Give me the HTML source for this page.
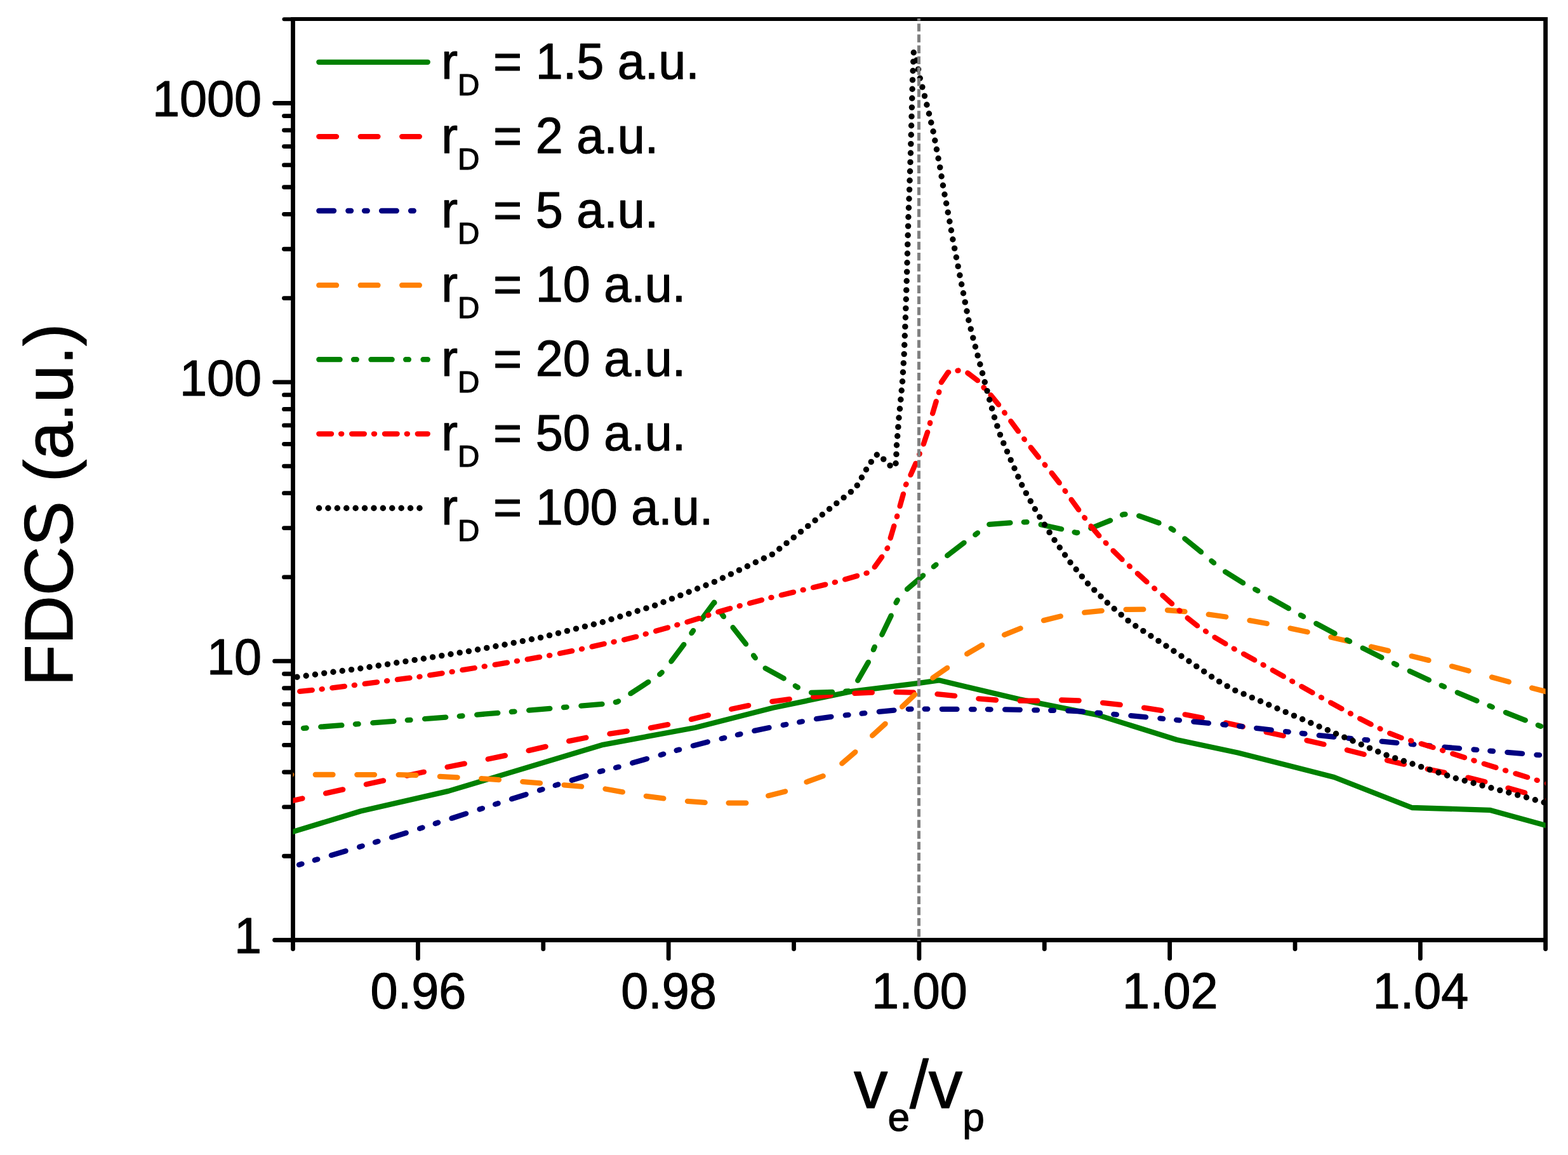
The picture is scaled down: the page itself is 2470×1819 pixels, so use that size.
<!DOCTYPE html>
<html lang="en"><head><meta charset="utf-8"><title>FDCS vs ve/vp</title>
<style>html,body{margin:0;padding:0;background:#fff;}body{width:2470px;height:1819px;overflow:hidden;}svg{display:block;}text{font-family:"Liberation Sans",sans-serif;fill:#000;stroke:#000;stroke-width:1.2px;stroke-linejoin:round;}</style>
</head><body>
<svg width="2470" height="1819" viewBox="0 0 2470 1819">
<rect x="0" y="0" width="2470" height="1819" fill="#ffffff"/>
<defs><clipPath id="plot"><rect x="461.5" y="30.0" width="1973.1" height="1450.5"/></clipPath><clipPath id="vclip"><rect x="461.5" y="29" width="1973.1" height="1453"/></clipPath></defs>
<g stroke="#000" stroke-width="6.8" fill="none" stroke-linecap="butt">
<line x1="458.1" y1="30.0" x2="2438.0" y2="30.0" stroke-width="6"/>
<line x1="458.1" y1="1480.5" x2="2438.0" y2="1480.5"/>
<line x1="461.5" y1="30.0" x2="461.5" y2="1480.5"/>
<line x1="2434.6" y1="30.0" x2="2434.6" y2="1480.5"/>
</g>
<g stroke="#000" stroke-width="6.8" fill="none" stroke-linecap="round">
<line x1="461.5" y1="1480.50" x2="432.60" y2="1480.50"/>
<line x1="461.5" y1="1348.25" x2="447.50" y2="1348.25"/>
<line x1="461.5" y1="1270.89" x2="447.50" y2="1270.89"/>
<line x1="461.5" y1="1216.00" x2="447.50" y2="1216.00"/>
<line x1="461.5" y1="1173.42" x2="447.50" y2="1173.42"/>
<line x1="461.5" y1="1138.63" x2="447.50" y2="1138.63"/>
<line x1="461.5" y1="1109.22" x2="447.50" y2="1109.22"/>
<line x1="461.5" y1="1083.75" x2="447.50" y2="1083.75"/>
<line x1="461.5" y1="1061.27" x2="447.50" y2="1061.27"/>
<line x1="461.5" y1="1041.17" x2="432.60" y2="1041.17"/>
<line x1="461.5" y1="908.92" x2="447.50" y2="908.92"/>
<line x1="461.5" y1="831.56" x2="447.50" y2="831.56"/>
<line x1="461.5" y1="776.67" x2="447.50" y2="776.67"/>
<line x1="461.5" y1="734.09" x2="447.50" y2="734.09"/>
<line x1="461.5" y1="699.30" x2="447.50" y2="699.30"/>
<line x1="461.5" y1="669.89" x2="447.50" y2="669.89"/>
<line x1="461.5" y1="644.42" x2="447.50" y2="644.42"/>
<line x1="461.5" y1="621.94" x2="447.50" y2="621.94"/>
<line x1="461.5" y1="601.84" x2="432.60" y2="601.84"/>
<line x1="461.5" y1="469.59" x2="447.50" y2="469.59"/>
<line x1="461.5" y1="392.23" x2="447.50" y2="392.23"/>
<line x1="461.5" y1="337.34" x2="447.50" y2="337.34"/>
<line x1="461.5" y1="294.76" x2="447.50" y2="294.76"/>
<line x1="461.5" y1="259.97" x2="447.50" y2="259.97"/>
<line x1="461.5" y1="230.56" x2="447.50" y2="230.56"/>
<line x1="461.5" y1="205.09" x2="447.50" y2="205.09"/>
<line x1="461.5" y1="182.61" x2="447.50" y2="182.61"/>
<line x1="461.5" y1="162.51" x2="432.60" y2="162.51"/>
<line x1="461.5" y1="30.26" x2="447.50" y2="30.26" stroke-width="6"/>
<line x1="461.50" y1="1480.5" x2="461.50" y2="1494.50"/>
<line x1="658.40" y1="1480.5" x2="658.40" y2="1509.40"/>
<line x1="855.77" y1="1480.5" x2="855.77" y2="1494.50"/>
<line x1="1053.15" y1="1480.5" x2="1053.15" y2="1509.40"/>
<line x1="1250.52" y1="1480.5" x2="1250.52" y2="1494.50"/>
<line x1="1447.90" y1="1480.5" x2="1447.90" y2="1509.40"/>
<line x1="1645.28" y1="1480.5" x2="1645.28" y2="1494.50"/>
<line x1="1842.65" y1="1480.5" x2="1842.65" y2="1509.40"/>
<line x1="2040.03" y1="1480.5" x2="2040.03" y2="1494.50"/>
<line x1="2237.40" y1="1480.5" x2="2237.40" y2="1509.40"/>
<line x1="2434.60" y1="1480.5" x2="2434.60" y2="1494.50"/>
</g>
<g clip-path="url(#plot)" fill="none" stroke-linejoin="round">
<path d="M448.2,1314.0 L461.6,1309.9 L568.1,1277.5 L706.4,1245.9 L950.0,1172.8 L1094.9,1146.0 L1217.5,1114.8 L1340.1,1089.2 L1447.5,1075.8 L1479.0,1071.3 L1606.0,1101.4 L1728.6,1125.9 L1853.5,1165.0 L1950.0,1185.5 L2101.6,1224.0 L2224.2,1272.0 L2346.8,1275.8 L2434.4,1299.8 L2447.9,1303.5" stroke="#008000" stroke-width="8.3" stroke-linecap="butt"/>
<path d="M449.4,1263.5 L476.4,1257.5M513.1,1249.4 L540.2,1243.4M576.9,1235.3 L604.0,1229.4M640.7,1221.6 L667.8,1215.8M704.6,1208.0 L731.8,1202.6M768.7,1195.5 L795.8,1189.9M832.6,1182.1 L859.6,1175.9M896.2,1167.1 L923.3,1161.7M960.4,1155.7 L987.8,1151.6M1024.9,1146.3 L1052.1,1141.2M1088.9,1132.9 L1115.8,1126.3M1152.1,1116.8 L1179.1,1111.1M1216.3,1104.8 L1243.7,1101.1M1281.1,1097.3 L1308.6,1094.8M1346.2,1091.9 L1373.8,1090.6M1411.4,1089.9 L1439.1,1090.6M1476.5,1093.2 L1504.1,1095.8M1541.4,1100.4 L1569.0,1102.5M1606.7,1103.7 L1634.4,1103.7M1672.0,1102.5 L1699.6,1103.4M1737.1,1106.8 L1764.7,1109.9M1802.1,1114.7 L1829.4,1118.8M1866.6,1125.3 L1893.7,1130.6M1930.8,1138.4 L1957.8,1144.4M1994.6,1152.9 L2021.7,1158.7M2058.5,1166.1 L2085.5,1172.2M2121.9,1181.2 L2148.7,1188.0M2185.0,1197.4 L2211.9,1203.6M2248.7,1211.2 L2275.8,1216.9M2312.4,1224.6 L2339.3,1231.2M2375.5,1241.1 L2402.1,1248.6M2438.2,1259.1 L2447.9,1261.9" stroke="#ff0000" stroke-width="8.3" stroke-linecap="round"/>
<path d="M448.1,1368.7 L449.4,1368.3M471.0,1361.9 L475.5,1360.6M495.8,1354.6 L500.3,1353.3M521.9,1346.9 L544.6,1340.2M566.2,1333.8 L570.7,1332.4M591.0,1326.4 L595.5,1325.1M617.1,1318.7 L639.7,1311.7M661.1,1304.9 L665.5,1303.4M685.7,1297.0 L690.1,1295.5M711.5,1288.7 L734.1,1281.4M755.5,1274.5 L759.9,1273.1M780.1,1266.6 L784.6,1265.2M806.0,1258.3 L828.6,1251.2M850.0,1244.5 L854.5,1243.1M874.7,1236.9 L879.2,1235.5M900.7,1228.8 L923.3,1221.8M944.9,1215.1 L949.4,1214.0M970.0,1209.0 L974.6,1207.8M996.2,1201.6 L1019.0,1195.1M1040.7,1188.9 L1045.2,1187.6M1065.6,1181.8 L1070.1,1180.6M1091.8,1174.4 L1114.8,1168.5M1136.7,1163.2 L1141.2,1162.1M1161.9,1157.2 L1166.4,1156.1M1188.3,1150.9 L1211.5,1146.0M1233.7,1141.9 L1238.3,1141.0M1259.2,1137.2 L1263.8,1136.3M1286.0,1132.2 L1309.4,1128.8M1331.8,1126.4 L1336.5,1125.9M1357.6,1123.7 L1362.3,1123.2M1384.8,1120.9 L1408.4,1118.6M1430.8,1116.8 L1435.5,1116.6M1456.6,1116.6 L1461.3,1116.6M1483.8,1116.8 L1507.5,1116.9M1530.0,1117.1 L1534.7,1117.1M1555.9,1117.2 L1560.6,1117.3M1583.1,1117.4 L1606.8,1117.8M1629.3,1118.3 L1634.0,1118.4M1655.2,1118.8 L1659.9,1118.9M1682.4,1119.4 L1706.0,1120.7M1728.5,1122.6 L1733.1,1123.0M1754.3,1124.9 L1758.9,1125.3M1781.4,1127.2 L1805.0,1129.3M1827.4,1131.4 L1832.1,1131.9M1853.2,1133.9 L1857.9,1134.3M1880.3,1136.5 L1903.9,1138.8M1926.3,1141.0 L1931.0,1141.5M1952.1,1143.6 L1956.8,1144.1M1979.2,1146.8 L2002.7,1149.5M2025.1,1152.1 L2029.7,1152.6M2050.8,1155.0 L2055.5,1155.5M2077.8,1158.1 L2101.4,1160.5M2123.8,1162.6 L2128.5,1163.1M2149.6,1165.1 L2154.3,1165.5M2176.7,1167.6 L2200.3,1169.8M2222.7,1171.8 L2227.3,1172.3M2248.4,1174.2 L2253.1,1174.6M2275.4,1176.7 L2299.0,1178.7M2321.5,1180.5 L2326.2,1180.9M2347.3,1182.6 L2352.0,1183.0M2374.4,1184.8 L2398.0,1186.8M2420.4,1188.8 L2425.1,1189.2M2446.2,1191.0 L2448.4,1191.2" stroke="#000080" stroke-width="8.3" stroke-linecap="round"/>
<path d="M447.6,1220.0 L459.2,1220.0M496.8,1220.0 L524.5,1220.0M562.3,1220.1 L590.0,1220.1M627.7,1220.2 L655.4,1220.9M692.9,1222.9 L720.6,1224.3M758.3,1226.2 L785.9,1228.1M823.3,1231.1 L850.9,1233.3M888.5,1236.3 L916.1,1238.7M953.5,1242.5 L980.8,1247.4M1017.8,1253.8 L1045.3,1257.4M1083.0,1261.9 L1110.6,1263.9M1147.6,1264.6 L1175.3,1264.6M1210.2,1253.2 L1237.0,1246.4M1270.5,1231.6 L1296.6,1222.2M1326.3,1202.3 L1347.3,1184.3M1374.1,1158.5 L1394.6,1139.9M1421.1,1113.1 L1441.1,1093.9M1469.3,1067.6 L1492.1,1051.9M1523.2,1029.8 L1547.1,1015.9M1582.0,999.8 L1607.6,989.5M1644.0,977.1 L1670.8,970.5M1708.2,964.7 L1735.7,961.9M1773.6,959.9 L1801.3,959.7M1839.0,961.0 L1866.5,963.2M1903.7,967.7 L1931.2,971.5M1968.5,977.2 L1995.7,982.0M2032.5,989.5 L2059.6,995.3M2096.4,1003.5 L2123.4,1009.8M2160.0,1018.5 L2187.0,1024.9M2223.6,1033.3 L2250.5,1039.9M2286.9,1049.3 L2313.6,1056.5M2350.0,1066.5 L2376.8,1073.8M2413.1,1083.5 L2439.9,1090.4" stroke="#ff8000" stroke-width="8.3" stroke-linecap="round"/>
<path d="M447.6,1149.1 L456.5,1148.4M478.0,1146.8 L482.7,1146.5M505.3,1144.7 L538.4,1142.2M559.9,1140.5 L564.6,1140.2M587.3,1138.4 L620.4,1135.9M641.8,1134.2 L646.5,1133.9M669.1,1132.1 L702.2,1129.6M723.8,1127.9 L728.5,1127.5M751.2,1125.6 L784.3,1122.8M805.8,1121.0 L810.5,1120.6M833.2,1118.6 L866.3,1115.8M887.9,1114.0 L892.6,1113.6M915.4,1111.7 L948.5,1108.9M969.8,1105.8 L972.3,1105.4 L974.1,1104.3M993.4,1092.2 L1021.3,1074.1M1039.2,1062.1 L1042.7,1059.0M1057.4,1041.6 L1077.3,1015.1M1089.4,997.0 L1092.1,993.2M1105.7,974.8 L1125.0,948.7 L1125.4,949.3M1137.2,967.2 L1139.9,971.0M1154.5,988.2 L1175.0,1014.3M1187.0,1032.3 L1189.8,1036.1M1205.6,1052.4 L1234.7,1068.3M1252.8,1080.2 L1256.8,1082.6M1278.0,1090.8 L1311.1,1089.9M1332.2,1088.6 L1336.9,1088.3M1351.2,1071.7 L1367.8,1042.9M1375.9,1023.2 L1377.8,1018.9M1389.3,999.5 L1403.7,969.6M1411.5,949.2 L1413.7,945.2M1429.0,927.9 L1454.1,906.3M1470.8,892.4 L1474.5,889.4M1492.2,875.0 L1518.6,854.8M1536.3,842.1 L1540.0,839.3M1558.3,825.9 L1591.4,823.4M1612.8,822.3 L1617.5,822.1M1639.7,826.2 L1672.1,833.2M1692.6,838.2 L1696.3,839.1 L1697.2,838.8M1718.4,832.0 L1749.1,819.7M1768.0,810.8 L1769.9,809.9 L1772.5,810.0M1794.2,812.4 L1825.5,823.5M1844.6,832.3 L1848.5,834.9M1866.3,848.4 L1892.0,869.3M1908.4,883.4 L1912.1,886.4M1930.1,900.5 L1958.1,918.0M1977.2,928.1 L1981.3,930.4M2001.0,941.8 L2029.9,958.2M2048.9,968.8 L2053.1,971.0M2073.3,982.0 L2102.6,997.6M2122.0,1007.8 L2126.1,1010.0M2146.7,1020.6 L2176.4,1035.5M2195.9,1044.9 L2200.1,1047.0M2220.7,1056.9 L2250.9,1070.9M2270.7,1079.6 L2275.0,1081.5M2295.8,1090.7 L2326.4,1103.6M2346.4,1111.7 L2350.8,1113.5M2371.9,1122.1 L2402.8,1134.3M2422.8,1142.1 L2427.2,1143.8M2447.6,1151.5 L2447.7,1151.5" stroke="#008000" stroke-width="8.3" stroke-linecap="round"/>
<path d="M447.7,1091.8 L447.8,1091.8M455.3,1090.8 L456.3,1090.7M472.2,1088.9 L491.8,1086.9M506.6,1085.3 L507.7,1085.2M523.3,1083.3 L542.9,1080.9M557.8,1079.1 L558.9,1079.0M574.6,1076.9 L594.1,1074.3M609.1,1072.4 L610.2,1072.2M625.9,1070.2 L645.5,1067.7M660.4,1065.8 L661.5,1065.7M677.1,1063.3 L696.6,1060.3M711.6,1058.0 L712.7,1057.8M728.4,1055.2 L747.8,1052.0M762.7,1049.5 L763.8,1049.3M779.6,1046.8 L799.0,1043.6M813.9,1041.2 L815.0,1041.0M830.7,1038.3 L850.1,1034.9M865.1,1032.3 L866.2,1032.1M881.9,1029.0 L901.2,1025.1M916.0,1022.2 L917.0,1021.9M932.5,1018.4 L951.7,1014.0M966.5,1011.0 L967.6,1010.7M983.1,1007.5 L1002.2,1002.8M1016.7,998.6 L1017.8,998.3M1033.1,993.8 L1052.0,988.4M1066.3,984.2 L1067.3,983.9M1082.4,979.6 L1101.2,973.8M1115.4,969.0 L1116.4,968.7M1131.3,963.7 L1150.2,958.2M1164.7,954.3 L1165.7,954.0M1180.9,950.0 L1200.0,945.0M1214.4,941.1 L1215.5,940.9M1230.8,937.2 L1250.0,932.6M1264.6,929.1 L1265.7,928.9M1281.0,925.2 L1300.2,920.6M1314.8,917.1 L1315.9,916.8M1331.1,912.4 L1350.1,906.9M1364.5,902.7 L1365.6,902.4M1377.7,893.0 L1389.2,877.0M1397.5,863.9 L1398.1,863.0M1402.7,847.3 L1408.3,828.4M1412.9,813.7 L1413.2,812.7M1417.6,797.1 L1422.9,778.1M1427.0,763.4 L1427.5,762.4M1434.5,747.9 L1442.5,729.9M1448.3,715.5 L1448.7,714.5M1454.8,699.3 L1461.1,680.7M1464.9,666.8 L1465.2,665.7M1469.1,651.1 L1474.7,632.2M1479.0,618.2 L1479.3,617.2M1482.8,602.1 L1493.5,586.4 L1494.2,586.3M1508.5,583.7 L1509.5,583.5 L1509.6,583.5M1524.3,587.4 L1540.0,599.2M1549.5,610.2 L1550.3,611.0M1560.6,622.2 L1573.1,637.4M1582.2,649.6 L1582.8,650.5M1592.3,663.4 L1604.0,679.2M1613.2,691.3 L1613.8,692.1M1623.7,704.7 L1636.0,720.1M1645.7,731.7 L1646.4,732.6M1656.6,744.9 L1668.7,760.4M1677.6,772.9 L1678.3,773.8M1687.6,786.9 L1699.2,802.9M1708.3,815.0 L1709.0,815.9M1718.6,828.7 L1731.3,843.7M1741.7,854.8 L1742.5,855.6M1753.5,867.3 L1767.6,881.1M1779.0,891.5 L1779.8,892.2M1791.8,903.2 L1806.5,916.3M1818.2,926.4 L1819.0,927.1M1831.4,937.7 L1846.1,950.8M1857.6,961.4 L1858.5,962.1M1870.6,973.2 L1886.1,985.4M1899.0,994.0 L1899.9,994.6M1913.5,1003.7 L1930.4,1013.8M1943.7,1021.6 L1944.7,1022.2M1959.0,1029.9 L1976.2,1039.4M1989.6,1046.9 L1990.6,1047.5M2004.7,1055.5 L2021.8,1065.2M2035.2,1072.7 L2036.2,1073.3M2050.3,1081.2 L2067.5,1090.8M2081.0,1098.2 L2082.0,1098.8M2096.2,1106.6 L2113.5,1116.1M2127.0,1123.5 L2127.9,1124.0M2142.1,1131.8 L2159.7,1140.7M2173.6,1147.4 L2174.5,1147.9M2189.2,1154.9 L2207.5,1162.0M2222.2,1166.4 L2223.2,1166.7M2238.7,1171.3 L2257.6,1177.1M2272.0,1181.7 L2273.0,1182.1M2288.3,1187.0 L2307.0,1193.0M2321.4,1197.6 L2322.5,1198.0M2337.7,1202.9 L2356.5,1208.8M2371.0,1213.3 L2372.1,1213.6M2387.4,1218.3 L2406.2,1224.1M2420.7,1228.6 L2421.7,1228.9M2437.0,1233.8 L2447.9,1237.1" stroke="#ff0000" stroke-width="8.3" stroke-linecap="round"/>
<path d="M447.8,1069.6 L447.9,1069.6M453.7,1068.7 L453.8,1068.7M467.9,1066.2 L468.0,1066.2M482.2,1064.2 L482.2,1064.2M496.4,1062.2 L496.5,1062.2M510.7,1060.1 L510.7,1060.1M524.9,1058.3 L525.0,1058.3M539.2,1056.5 L539.3,1056.5M553.5,1054.6 L553.6,1054.6M567.8,1052.8 L567.8,1052.8M582.0,1050.5 L582.1,1050.5M596.2,1048.3 L596.3,1048.3M610.5,1046.1 L610.5,1046.1M624.7,1043.8 L624.7,1043.8M638.9,1041.6 L638.9,1041.6M653.1,1039.4 L653.2,1039.4M667.3,1037.2 L667.4,1037.2M681.6,1034.9 L681.6,1034.9M695.8,1032.6 L695.8,1032.6M710.0,1030.3 L710.0,1030.3M724.2,1027.9 L724.2,1027.9M738.4,1025.6 L738.4,1025.6M752.5,1023.0 L752.6,1023.0M766.7,1020.4 L766.8,1020.4M780.9,1017.8 L780.9,1017.8M795.0,1015.2 L795.1,1015.2M809.2,1012.4 L809.2,1012.4M823.3,1009.6 L823.3,1009.6M837.4,1006.8 L837.5,1006.8M851.5,1004.1 L851.6,1004.1M865.5,1000.6 L865.6,1000.6M879.5,997.1 L879.5,997.1M893.4,993.6 L893.5,993.6M907.4,990.1 L907.5,990.1M921.4,986.6 L921.4,986.6M935.3,983.2 L935.4,983.2M949.3,979.7 L949.4,979.7M963.0,975.3 L963.1,975.3M976.8,971.0 L976.8,971.0M990.5,966.6 L990.5,966.6M1004.2,962.2 L1004.2,962.2M1017.9,957.9 L1018.0,957.9M1031.6,953.5 L1031.7,953.5M1045.0,948.2 L1045.1,948.2M1058.4,942.9 L1058.5,942.9M1071.8,937.6 L1071.9,937.6M1085.2,932.3 L1085.2,932.3M1098.6,927.0 L1098.6,927.0M1112.0,921.7 L1112.0,921.7M1125.3,916.4 L1125.4,916.4M1138.4,910.3 L1138.4,910.3M1151.4,904.1 L1151.4,904.1M1164.4,897.9 L1164.4,897.9M1177.3,891.7 L1177.4,891.7M1190.3,885.5 L1190.4,885.5M1203.3,879.3 L1203.4,879.3M1216.3,873.1 L1216.4,873.1M1227.7,864.3 L1227.8,864.3M1239.0,855.4 L1239.0,855.4M1250.2,846.4 L1250.3,846.4M1261.5,837.4 L1261.5,837.4M1272.7,828.4 L1272.8,828.4M1284.0,819.5 L1284.1,819.5M1295.3,810.5 L1295.3,810.5M1306.5,801.5 L1306.6,801.5M1317.8,792.6 L1317.8,792.6M1329.1,783.6 L1329.1,783.6M1340.3,774.6 L1340.4,774.6M1350.2,764.5 L1350.3,764.5M1357.4,752.0 L1357.4,752.0M1364.5,739.5 L1364.5,739.5M1372.3,727.4 L1372.3,727.4M1381.3,716.2 L1381.3,716.2M1391.7,723.1 L1391.8,723.1M1402.0,733.1 L1402.1,733.1M1411.0,729.7 L1411.1,729.7M1411.9,715.4 L1412.0,715.4M1412.5,701.0 L1412.5,701.0M1413.7,686.7 L1413.7,686.7M1414.8,672.4 L1414.9,672.4M1416.0,658.0 L1416.0,658.0M1417.4,643.7 L1417.5,643.7M1418.8,629.3 L1418.9,629.3M1420.2,615.0 L1420.2,615.0M1421.5,600.7 L1421.6,600.7M1422.4,586.3 L1422.5,586.3M1423.3,571.9 L1423.3,571.9M1424.2,557.6 L1424.2,557.6M1424.7,543.2 L1424.8,543.2M1425.3,528.8 L1425.3,528.8M1425.8,514.4 L1425.9,514.4M1426.4,500.0 L1426.4,500.0M1426.8,485.6 L1426.9,485.6M1427.3,471.2 L1427.3,471.2M1427.7,456.9 L1427.8,456.9M1428.2,442.5 L1428.2,442.5M1428.6,428.1 L1428.7,428.1M1429.0,413.7 L1429.0,413.7M1429.4,399.3 L1429.4,399.3M1429.7,384.9 L1429.8,384.9M1430.1,370.5 L1430.2,370.5M1430.5,356.1 L1430.6,356.1M1430.9,341.7 L1430.9,341.7M1431.4,327.3 L1431.5,327.3M1432.0,313.0 L1432.0,313.0M1432.6,298.6 L1432.6,298.6M1433.0,284.2 L1433.1,284.2M1433.5,269.8 L1433.6,269.8M1434.0,255.4 L1434.0,255.4M1434.5,241.0 L1434.5,241.0M1434.8,226.6 L1434.9,226.6M1435.2,212.2 L1435.3,212.2M1435.6,197.8 L1435.6,197.8M1436.0,183.4 L1436.0,183.4M1436.4,169.1 L1436.4,169.1M1436.7,154.7 L1436.8,154.7M1437.1,140.3 L1437.1,140.3M1437.5,125.9 L1437.5,125.9M1438.1,111.5 L1438.1,111.5M1438.7,97.1 L1438.7,97.1M1439.3,82.7 L1439.3,82.7M1443.7,95.0 L1443.7,95.0M1446.5,109.1 L1446.6,109.1M1449.3,123.2 L1449.3,123.2M1452.9,137.1 L1452.9,137.1M1456.5,151.1 L1456.5,151.1M1459.9,165.0 L1460.0,165.0M1463.4,179.0 L1463.5,179.0M1466.7,193.0 L1466.8,193.0M1470.0,207.0 L1470.1,207.0M1472.8,221.2 L1472.8,221.2M1475.4,235.3 L1475.5,235.3M1478.1,249.5 L1478.1,249.5M1480.7,263.6 L1480.8,263.6M1483.1,277.8 L1483.1,277.8M1485.4,292.0 L1485.5,292.0M1488.0,306.2 L1488.0,306.2M1490.6,320.3 L1490.7,320.3M1493.2,334.5 L1493.3,334.5M1495.9,348.7 L1495.9,348.7M1498.4,362.8 L1498.4,362.8M1500.9,377.0 L1500.9,377.0M1503.6,391.1 L1503.7,391.1M1506.4,405.3 L1506.4,405.3M1509.2,419.4 L1509.2,419.4M1511.9,433.5 L1512.0,433.5M1514.7,447.7 L1514.7,447.7M1517.5,461.8 L1517.5,461.8M1520.2,475.9 L1520.3,475.9M1523.0,490.0 L1523.1,490.0M1525.8,504.2 L1525.8,504.2M1529.2,518.1 L1529.3,518.1M1532.8,532.1 L1532.8,532.1M1536.4,546.0 L1536.4,546.0M1540.1,559.9 L1540.1,559.9M1543.8,573.8 L1543.9,573.8M1547.5,587.8 L1547.6,587.8M1551.2,601.7 L1551.3,601.7M1555.0,615.6 L1555.0,615.6M1558.7,629.5 L1558.7,629.5M1562.5,643.3 L1562.6,643.3M1566.4,657.2 L1566.5,657.2M1570.8,670.9 L1570.9,670.9M1575.4,684.6 L1575.5,684.6M1580.8,697.9 L1580.8,697.9M1586.5,711.1 L1586.5,711.1M1592.2,724.4 L1592.2,724.4M1598.0,737.5 L1598.0,737.5M1603.8,750.7 L1603.9,750.7M1609.7,763.8 L1609.7,763.8M1616.3,776.6 L1616.4,776.6M1623.3,789.2 L1623.4,789.2M1630.4,801.7 L1630.4,801.7M1637.8,814.1 L1637.8,814.1M1645.5,826.2 L1645.5,826.2M1653.1,838.4 L1653.2,838.4M1661.0,850.5 L1661.1,850.5M1669.3,862.2 L1669.3,862.2M1677.6,874.0 L1677.6,874.0M1686.0,885.7 L1686.0,885.7M1695.2,896.8 L1695.2,896.8M1704.3,907.9 L1704.4,907.9M1713.5,919.0 L1713.6,919.0M1723.7,929.1 L1723.8,929.1M1734.0,939.2 L1734.1,939.2M1744.3,949.2 L1744.4,949.2M1755.2,958.7 L1755.2,958.7M1766.1,968.1 L1766.2,968.1M1777.0,977.4 L1777.1,977.4M1788.8,985.7 L1788.8,985.7M1800.8,993.6 L1800.9,993.6M1812.9,1001.5 L1812.9,1001.5M1824.9,1009.4 L1825.0,1009.4M1836.9,1017.3 L1837.0,1017.3M1848.9,1025.3 L1849.0,1025.3M1860.9,1033.2 L1861.0,1033.2M1872.9,1041.3 L1872.9,1041.3M1884.7,1049.4 L1884.8,1049.4M1896.6,1057.5 L1896.7,1057.5M1908.5,1065.7 L1908.6,1065.7M1920.6,1073.4 L1920.7,1073.4M1933.1,1080.6 L1933.2,1080.6M1945.8,1087.4 L1945.8,1087.4M1959.1,1092.9 L1959.1,1092.9M1972.3,1098.6 L1972.3,1098.6M1985.5,1104.3 L1985.6,1104.3M1998.7,1110.0 L1998.8,1110.0M2012.0,1115.7 L2012.0,1115.7M2025.2,1121.4 L2025.2,1121.4M2038.4,1127.1 L2038.5,1127.1M2051.6,1132.8 L2051.7,1132.8M2064.8,1138.5 L2064.9,1138.5M2078.1,1144.2 L2078.1,1144.2M2091.3,1149.8 L2091.4,1149.8M2104.5,1155.5 L2104.6,1155.5M2117.8,1161.1 L2117.8,1161.1M2131.0,1166.8 L2131.1,1166.8M2144.3,1172.5 L2144.3,1172.5M2157.5,1178.1 L2157.6,1178.1M2170.7,1183.8 L2170.8,1183.8M2184.0,1189.3 L2184.1,1189.3M2197.7,1193.9 L2197.7,1193.9M2211.3,1198.5 L2211.4,1198.5M2225.0,1203.0 L2225.0,1203.0M2238.6,1207.6 L2238.7,1207.6M2252.3,1212.1 L2252.3,1212.1M2266.0,1216.7 L2266.0,1216.7M2279.6,1221.2 L2279.7,1221.2M2293.3,1225.8 L2293.3,1225.8M2307.2,1229.5 L2307.2,1229.5M2321.1,1233.3 L2321.1,1233.3M2335.0,1237.1 L2335.0,1237.1M2348.9,1240.8 L2348.9,1240.8M2362.8,1244.6 L2362.8,1244.6M2376.7,1248.3 L2376.7,1248.3M2390.6,1252.1 L2390.6,1252.1M2404.5,1255.8 L2404.5,1255.8M2418.3,1259.8 L2418.3,1259.8M2432.1,1263.8 L2432.2,1263.8M2446.0,1267.7 L2446.0,1267.7" stroke="#000000" stroke-width="9.4" stroke-linecap="round"/>
</g>
<line x1="1447.5" y1="20" x2="1447.5" y2="1490" stroke="#808080" stroke-width="5" stroke-linecap="butt" stroke-dasharray="12.4 4.78" clip-path="url(#vclip)"/>
<text transform="translate(412.0,1501.4) scale(0.992,1.02)" font-size="78px" text-anchor="end">1</text>
<text transform="translate(412.0,1062.1) scale(0.992,1.02)" font-size="78px" text-anchor="end">10</text>
<text transform="translate(412.0,622.7) scale(0.992,1.02)" font-size="78px" text-anchor="end">100</text>
<text transform="translate(412.0,183.4) scale(0.992,1.02)" font-size="78px" text-anchor="end">1000</text>
<text transform="translate(658.9,1588.3) scale(0.992,1.02)" font-size="78px" text-anchor="middle">0.96</text>
<text transform="translate(1053.6,1588.3) scale(0.992,1.02)" font-size="78px" text-anchor="middle">0.98</text>
<text transform="translate(1448.4,1588.3) scale(0.992,1.02)" font-size="78px" text-anchor="middle">1.00</text>
<text transform="translate(1843.2,1588.3) scale(0.992,1.02)" font-size="78px" text-anchor="middle">1.02</text>
<text transform="translate(2237.9,1588.3) scale(0.992,1.02)" font-size="78px" text-anchor="middle">1.04</text>
<text transform="translate(1447.9,1744.6) scale(0.995,1.0)" font-size="107.5px" text-anchor="middle">v<tspan font-size="62.5px" dy="36.5">e</tspan><tspan dy="-36.5">/v</tspan><tspan font-size="62.5px" dy="36.5">p</tspan></text>
<text transform="translate(114.4,795.0) rotate(-90) scale(0.997,1.0)" font-size="107.5px" text-anchor="middle">FDCS (a.u.)</text>
<line x1="502.34999999999997" y1="97.8" x2="673.75" y2="97.8" stroke="#008000" stroke-width="8.3" stroke-linecap="round"/>
<text transform="translate(695.3,123.5) scale(0.992,1.02)" font-size="78px" text-anchor="start">r<tspan font-size="48px" dy="25.5">D</tspan><tspan dy="-25.5"> = 1.5 a.u.</tspan></text>
<line x1="502.34999999999997" y1="215.1" x2="660.85" y2="215.1" stroke="#ff0000" stroke-width="8.3" stroke-linecap="round" stroke-dasharray="27.70 37.70"/>
<text transform="translate(695.3,240.8) scale(0.992,1.02)" font-size="78px" text-anchor="start">r<tspan font-size="48px" dy="25.5">D</tspan><tspan dy="-25.5"> = 2 a.u.</tspan></text>
<line x1="502.34999999999997" y1="332.0" x2="652.35" y2="332.0" stroke="#000080" stroke-width="8.3" stroke-linecap="round" stroke-dasharray="23.70 22.30 4.70 21.00 4.70 22.30"/>
<text transform="translate(695.3,357.7) scale(0.992,1.02)" font-size="78px" text-anchor="start">r<tspan font-size="48px" dy="25.5">D</tspan><tspan dy="-25.5"> = 5 a.u.</tspan></text>
<line x1="502.34999999999997" y1="449.2" x2="660.85" y2="449.2" stroke="#ff8000" stroke-width="8.3" stroke-linecap="round" stroke-dasharray="27.70 37.70"/>
<text transform="translate(695.3,474.9) scale(0.992,1.02)" font-size="78px" text-anchor="start">r<tspan font-size="48px" dy="25.5">D</tspan><tspan dy="-25.5"> = 10 a.u.</tspan></text>
<line x1="502.34999999999997" y1="566.2" x2="673.75" y2="566.2" stroke="#008000" stroke-width="8.3" stroke-linecap="round" stroke-dasharray="33.20 21.50 4.70 22.70"/>
<text transform="translate(695.3,591.9) scale(0.992,1.02)" font-size="78px" text-anchor="start">r<tspan font-size="48px" dy="25.5">D</tspan><tspan dy="-25.5"> = 20 a.u.</tspan></text>
<line x1="502.34999999999997" y1="683.3" x2="673.75" y2="683.3" stroke="#ff0000" stroke-width="8.3" stroke-linecap="round" stroke-dasharray="19.70 15.10 1.10 15.90"/>
<text transform="translate(695.3,709.0) scale(0.992,1.02)" font-size="78px" text-anchor="start">r<tspan font-size="48px" dy="25.5">D</tspan><tspan dy="-25.5"> = 50 a.u.</tspan></text>
<line x1="502.5" y1="800.2" x2="662" y2="800.2" stroke="#000000" stroke-width="9.4" stroke-linecap="round" stroke-dasharray="0.10 14.30"/>
<text transform="translate(695.3,825.9) scale(0.992,1.02)" font-size="78px" text-anchor="start">r<tspan font-size="48px" dy="25.5">D</tspan><tspan dy="-25.5"> = 100 a.u.</tspan></text>
</svg></body></html>
